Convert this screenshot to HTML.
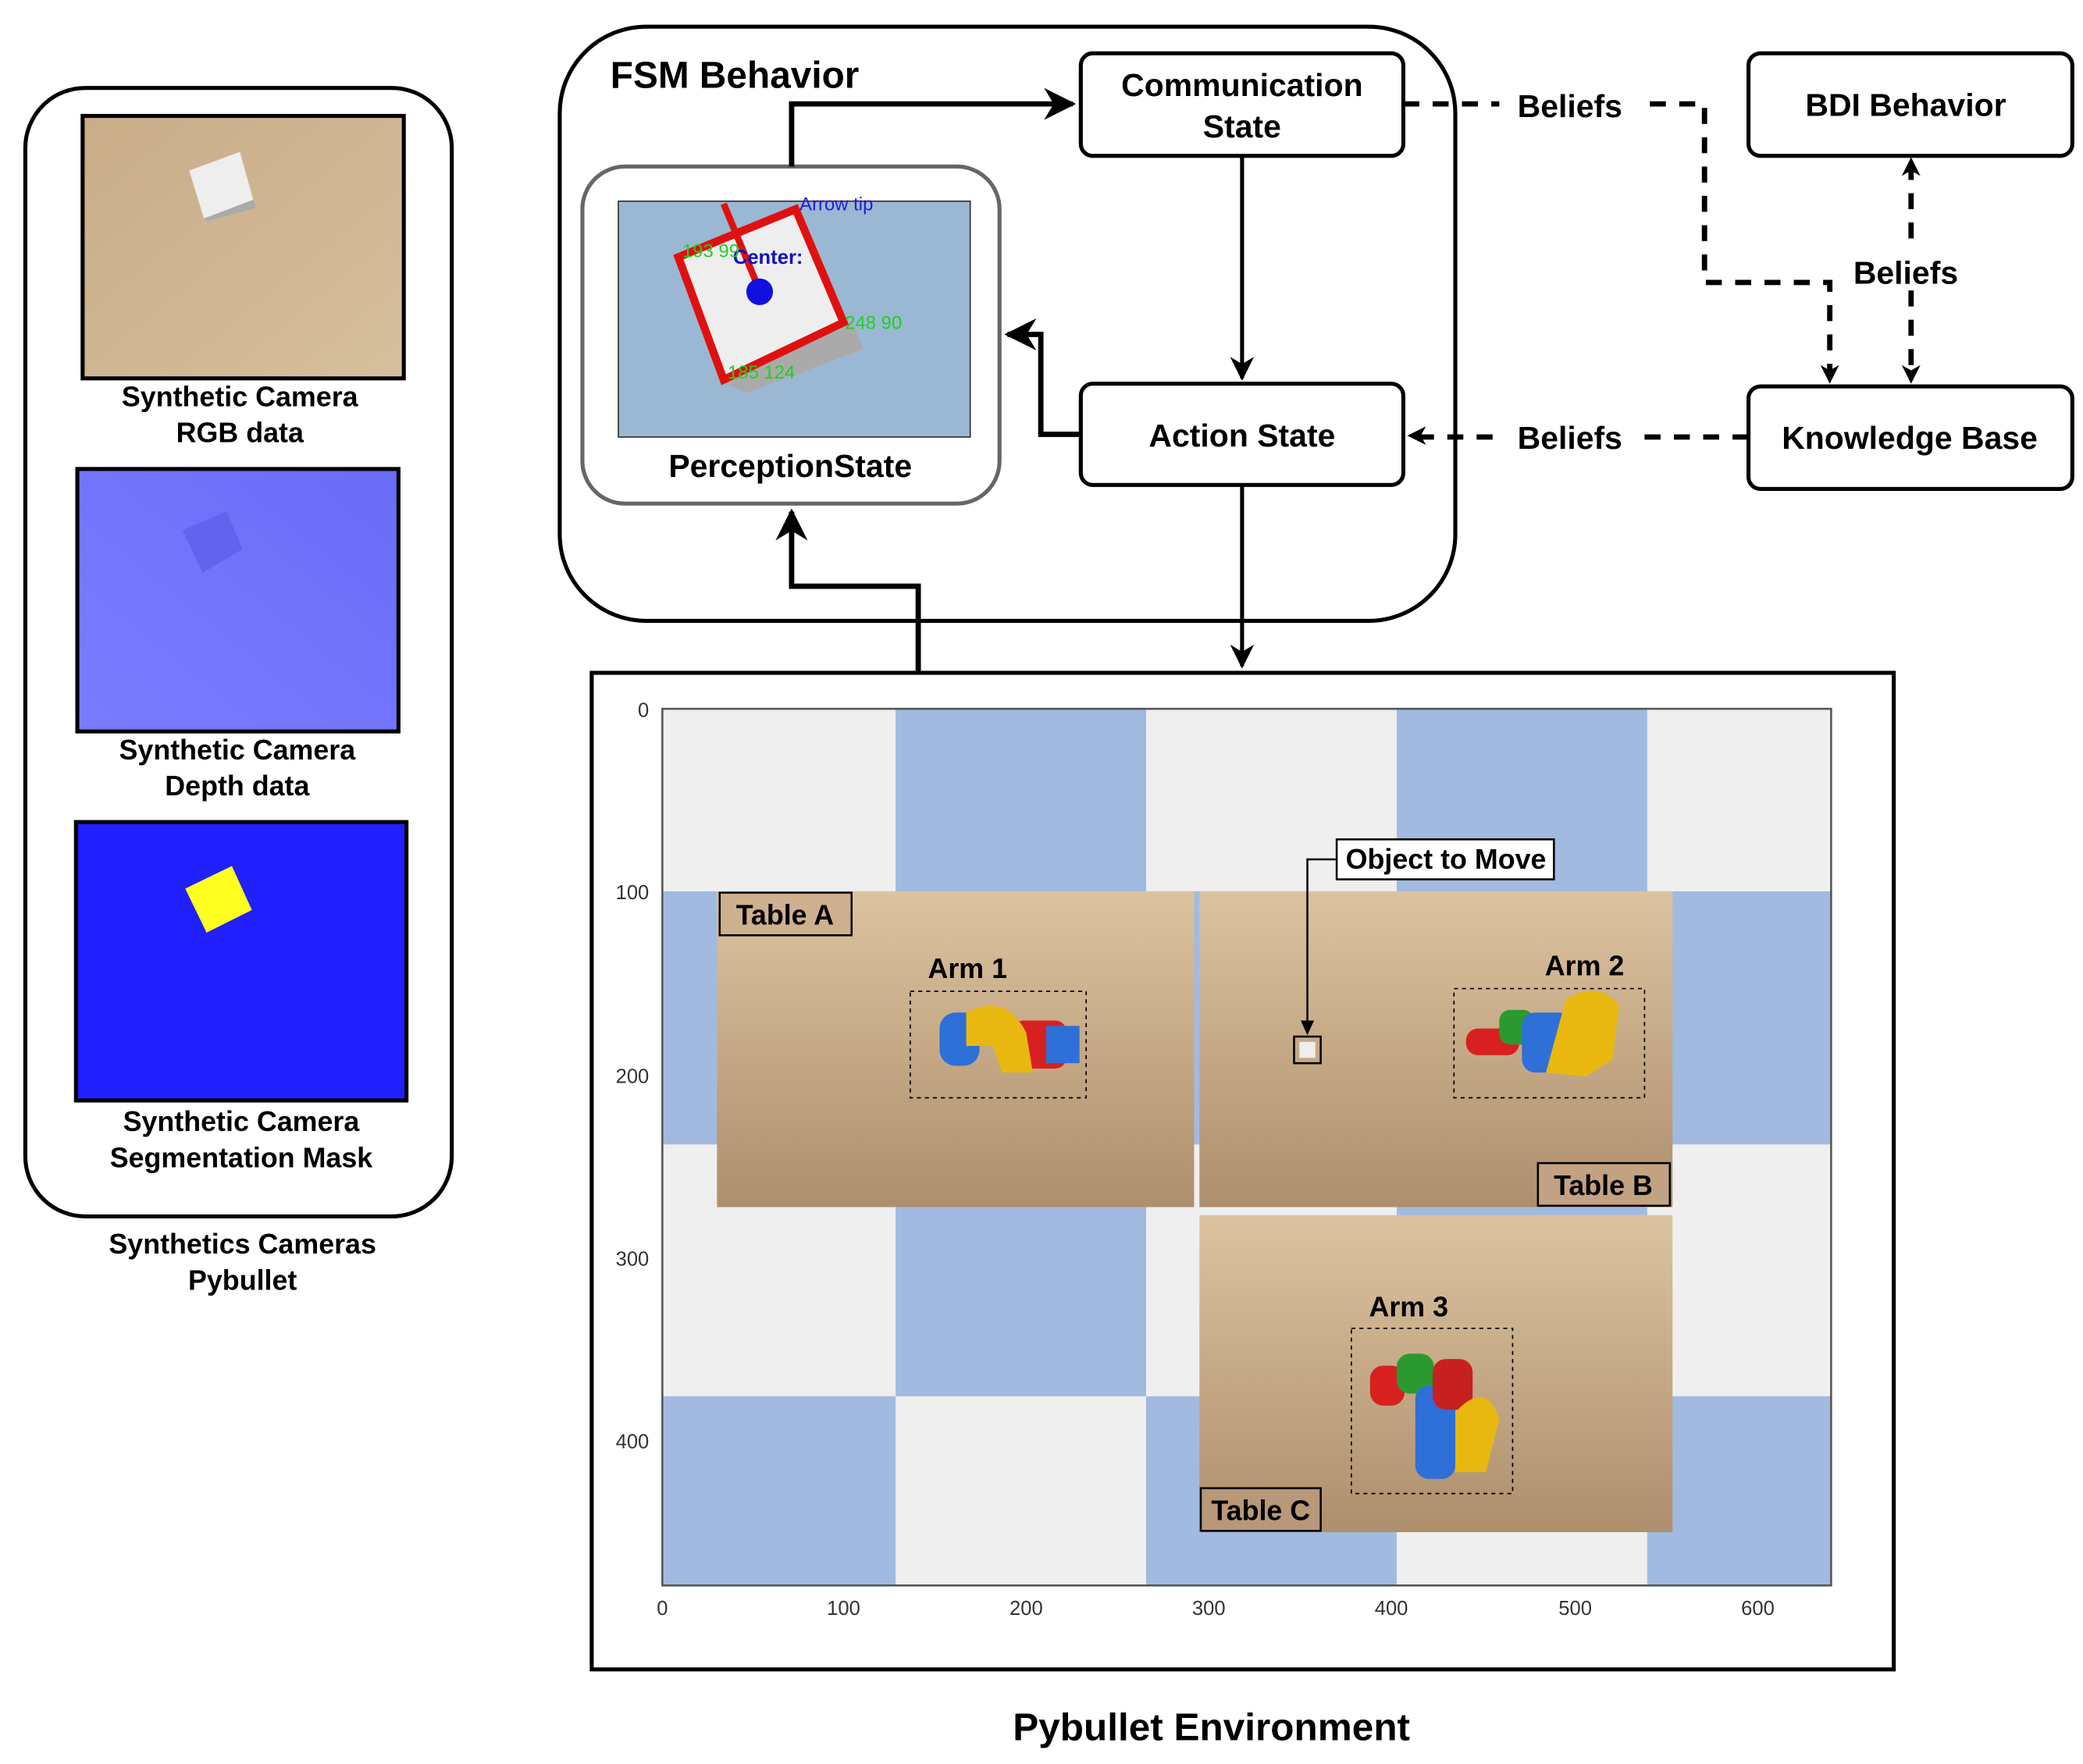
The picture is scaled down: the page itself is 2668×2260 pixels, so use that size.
<!DOCTYPE html>
<html><head><meta charset="utf-8"><style>
html,body{margin:0;padding:0;background:#fff;}
svg{display:block;}
text{font-family:"Liberation Sans",Arial,sans-serif;}
</style></head><body>
<svg width="2668" height="2260" viewBox="0 0 1563 1324" preserveAspectRatio="none" xmlns="http://www.w3.org/2000/svg">
<defs>
<linearGradient id="tan" x1="0" y1="0" x2="0" y2="1"><stop offset="0" stop-color="#dcc39f"/><stop offset="1" stop-color="#ae8f6d"/></linearGradient>
<linearGradient id="tan2" x1="0" y1="0" x2="1" y2="1"><stop offset="0" stop-color="#c9ac88"/><stop offset="1" stop-color="#d6bf9c"/></linearGradient>
<linearGradient id="dep" x1="0" y1="1" x2="1" y2="0"><stop offset="0" stop-color="#7a7cff"/><stop offset="1" stop-color="#6a6cf8"/></linearGradient>
<marker id="ah" viewBox="0 0 10 10" refX="9" refY="5" markerWidth="6" markerHeight="6" orient="auto-start-reverse"><path d="M0,0 L10,5 L0,10 L3,5 z" fill="#000"/></marker>
</defs>

<!-- Left panel -->
<rect x="19" y="66" width="320" height="847" rx="45" fill="#fff" stroke="#000" stroke-width="3"/>
<rect x="62" y="87" width="241" height="197" fill="url(#tan2)" stroke="#000" stroke-width="3"/>
<polygon points="142,128 180,114 190,150 153,164" fill="#eeeeee"/>
<polygon points="153,164 190,150 192,156 156,166" fill="#aaa"/>
<text x="180" y="305" font-size="21" font-weight="bold" text-anchor="middle">Synthetic Camera</text>
<text x="180" y="332" font-size="21" font-weight="bold" text-anchor="middle">RGB data</text>
<rect x="58" y="352" width="241" height="197" fill="url(#dep)" stroke="#000" stroke-width="3"/>
<polygon points="137,398 170,384 182,412 152,430" fill="#6264f0"/>
<text x="178" y="570" font-size="21" font-weight="bold" text-anchor="middle">Synthetic Camera</text>
<text x="178" y="597" font-size="21" font-weight="bold" text-anchor="middle">Depth data</text>
<rect x="57" y="617" width="248" height="209" fill="#2020ff" stroke="#000" stroke-width="3"/>
<polygon points="139,667 174,650 189,683 155,700" fill="#ffff20"/>
<text x="181" y="849" font-size="21" font-weight="bold" text-anchor="middle">Synthetic Camera</text>
<text x="181" y="876" font-size="21" font-weight="bold" text-anchor="middle">Segmentation Mask</text>
<text x="182" y="941" font-size="21" font-weight="bold" text-anchor="middle">Synthetics Cameras</text>
<text x="182" y="968" font-size="21" font-weight="bold" text-anchor="middle">Pybullet</text>

<!-- FSM container -->
<rect x="420" y="20" width="672" height="446" rx="65" fill="#fff" stroke="#000" stroke-width="3"/>
<text x="458" y="66" font-size="28" font-weight="bold">FSM Behavior</text>

<!-- Perception state -->
<rect x="437" y="125" width="313" height="253" rx="32" fill="#fff" stroke="#666" stroke-width="3"/>
<rect x="464" y="151" width="264" height="177" fill="#9ab8d3" stroke="#333" stroke-width="1"/>
<polygon points="543,287 640,243 648,262 560,295" fill="#aaa"/>
<polygon points="509,193 597,157 633,242 543,285" fill="#eeeeee" stroke="#e01010" stroke-width="6"/>
<line x1="543" y1="153" x2="570" y2="218" stroke="#e01010" stroke-width="5"/>
<circle cx="570" cy="219" r="10" fill="#1010e0"/>
<text x="550" y="198" font-size="15" font-weight="bold" fill="#1010c0">Center:</text>
<text x="600" y="158" font-size="14" fill="#2020d0" font-family="Liberation Mono">Arrow tip</text>
<text x="512" y="193" font-size="14" fill="#20d020" font-family="Liberation Mono">193 99</text>
<text x="634" y="247" font-size="14" fill="#20d020" font-family="Liberation Mono">248 90</text>
<text x="546" y="284" font-size="14" fill="#20d020" font-family="Liberation Mono">185 124</text>
<text x="593" y="358" font-size="24" font-weight="bold" text-anchor="middle">PerceptionState</text>

<!-- Comm state -->
<rect x="811" y="40" width="242" height="77" rx="9" fill="#fff" stroke="#000" stroke-width="3"/>
<text x="932" y="72" font-size="24" font-weight="bold" text-anchor="middle">Communication</text>
<text x="932" y="103" font-size="24" font-weight="bold" text-anchor="middle">State</text>
<!-- Action state -->
<rect x="811" y="288" width="242" height="76" rx="9" fill="#fff" stroke="#000" stroke-width="3"/>
<text x="932" y="335" font-size="24" font-weight="bold" text-anchor="middle">Action State</text>
<!-- BDI -->
<rect x="1312" y="40" width="243" height="77" rx="9" fill="#fff" stroke="#000" stroke-width="3"/>
<text x="1430" y="87" font-size="24" font-weight="bold" text-anchor="middle">BDI Behavior</text>
<!-- KB -->
<rect x="1312" y="290" width="243" height="77" rx="9" fill="#fff" stroke="#000" stroke-width="3"/>
<text x="1433" y="337" font-size="24" font-weight="bold" text-anchor="middle">Knowledge Base</text>

<!-- solid connectors -->
<polyline points="594,125 594,78 805,78" fill="none" stroke="#000" stroke-width="4" marker-end="url(#ah)"/>
<line x1="932" y1="117" x2="932" y2="284" stroke="#000" stroke-width="3" marker-end="url(#ah)"/>
<polyline points="811,326 781,326 781,251 756,251" fill="none" stroke="#000" stroke-width="4" marker-end="url(#ah)"/>
<line x1="932" y1="364" x2="932" y2="500" stroke="#000" stroke-width="3" marker-end="url(#ah)"/>
<polyline points="689,505 689,440 594,440 594,384" fill="none" stroke="#000" stroke-width="4" marker-end="url(#ah)"/>

<!-- dashed connectors -->
<g stroke="#000" stroke-width="4" fill="none" stroke-dasharray="12,10">
<line x1="1053" y1="78" x2="1125" y2="78"/>
<polyline points="1238,78 1279,78 1279,212 1373,212 1373,284"/>
<line x1="1434" y1="123" x2="1434" y2="189"/>
<line x1="1434" y1="218" x2="1434" y2="284"/>
<line x1="1312" y1="328" x2="1232" y2="328"/>
<line x1="1120" y1="328" x2="1062" y2="328"/>
</g>
<path d="M1366,274 L1373,288 L1380,274 L1373,278 z" fill="#000"/>
<path d="M1427,274 L1434,288 L1441,274 L1434,278 z" fill="#000"/>
<path d="M1427,132 L1434,118 L1441,132 L1434,128 z" fill="#000"/>
<path d="M1070,320 L1056,327 L1070,334 L1066,327 z" fill="#000"/>
<text x="1178" y="88" font-size="24" font-weight="bold" text-anchor="middle">Beliefs</text>
<text x="1430" y="213" font-size="24" font-weight="bold" text-anchor="middle">Beliefs</text>
<text x="1178" y="337" font-size="24" font-weight="bold" text-anchor="middle">Beliefs</text>

<!-- Environment -->
<rect x="444" y="505" width="977" height="748" fill="#fff" stroke="#000" stroke-width="3"/>
<rect x="497" y="532" width="877" height="658" fill="#efefef"/>
<g fill="#a2bae0">
<rect x="672" y="532" width="188" height="137"/><rect x="1048" y="532" width="188" height="137"/>
<rect x="497" y="669" width="175" height="190"/><rect x="860" y="669" width="188" height="190"/><rect x="1236" y="669" width="138" height="190"/>
<rect x="672" y="859" width="188" height="189"/><rect x="1048" y="859" width="188" height="189"/>
<rect x="497" y="1048" width="175" height="142"/><rect x="860" y="1048" width="188" height="142"/><rect x="1236" y="1048" width="138" height="142"/>
</g>
<rect x="497" y="532" width="877" height="658" fill="none" stroke="#555" stroke-width="1.5"/>
<g font-size="15" fill="#333" text-anchor="end">
<text x="487" y="538">0</text><text x="487" y="675">100</text><text x="487" y="813">200</text><text x="487" y="950">300</text><text x="487" y="1087">400</text>
</g>
<g font-size="15" fill="#333" text-anchor="middle">
<text x="497" y="1212">0</text><text x="633" y="1212">100</text><text x="770" y="1212">200</text><text x="907" y="1212">300</text><text x="1044" y="1212">400</text><text x="1182" y="1212">500</text><text x="1319" y="1212">600</text>
</g>
<rect x="538" y="669" width="358" height="237" fill="url(#tan)"/>
<rect x="900" y="669" width="355" height="237" fill="url(#tan)"/>
<rect x="900" y="912" width="355" height="238" fill="url(#tan)"/>

<!-- Arms -->
<g>
<rect x="705" y="760" width="30" height="40" rx="12" fill="#2f6fd8"/>
<rect x="760" y="766" width="40" height="36" rx="8" fill="#d82020"/>
<rect x="785" y="770" width="25" height="28" fill="#2f6fd8"/>
<path d="M725,760 Q755,745 770,775 L775,805 L752,805 L745,785 L725,785 z" fill="#e8b810"/>
<rect x="1100" y="772" width="40" height="20" rx="9" fill="#d82020"/>
<rect x="1125" y="758" width="26" height="26" rx="8" fill="#2a9a30"/>
<rect x="1142" y="760" width="38" height="45" rx="10" fill="#2f6fd8"/>
<path d="M1160,805 L1175,750 Q1200,735 1215,755 L1210,795 L1190,808 z" fill="#e8b810"/>
<rect x="1028" y="1025" width="26" height="30" rx="10" fill="#d82020"/>
<rect x="1048" y="1016" width="28" height="30" rx="10" fill="#2a9a30"/>
<rect x="1062" y="1040" width="30" height="70" rx="10" fill="#2f6fd8"/>
<rect x="1075" y="1020" width="30" height="38" rx="10" fill="#c82020"/>
<path d="M1092,1105 L1092,1060 Q1115,1035 1125,1065 L1115,1105 z" fill="#e8b810"/>
</g>
<g fill="none" stroke="#000" stroke-width="1" stroke-dasharray="3,3">
<rect x="683" y="744" width="132" height="80"/>
<rect x="1091" y="742" width="143" height="82"/>
<rect x="1014" y="997" width="121" height="124"/>
</g>
<rect x="971" y="778" width="20" height="20" fill="none" stroke="#000" stroke-width="1.5"/>
<rect x="975" y="782" width="12" height="12" fill="#eee"/>
<polyline points="1003,645 981,645 981,772" fill="none" stroke="#000" stroke-width="1.5"/>
<path d="M976,766 L981,777 L986,766 z" fill="#000"/>
<rect x="1003" y="630" width="163" height="30" fill="#fff" stroke="#000" stroke-width="1.5"/>
<text x="1085" y="652" font-size="21" font-weight="bold" text-anchor="middle">Object to Move</text>

<g font-size="21" font-weight="bold">
<rect x="540" y="670" width="99" height="32" fill="#cfb08e" stroke="#000" stroke-width="1.5"/>
<text x="589" y="694" text-anchor="middle">Table A</text>
<rect x="1154" y="873" width="99" height="32" fill="#c2a282" stroke="#000" stroke-width="1.5"/>
<text x="1203" y="897" text-anchor="middle">Table B</text>
<rect x="901" y="1117" width="90" height="32" fill="#b89878" stroke="#000" stroke-width="1.5"/>
<text x="946" y="1141" text-anchor="middle">Table C</text>
<text x="726" y="734" text-anchor="middle">Arm 1</text>
<text x="1189" y="732" text-anchor="middle">Arm 2</text>
<text x="1057" y="988" text-anchor="middle">Arm 3</text>
</g>
<text x="909" y="1306" font-size="29" font-weight="bold" text-anchor="middle">Pybullet Environment</text>
</svg>
</body></html>
